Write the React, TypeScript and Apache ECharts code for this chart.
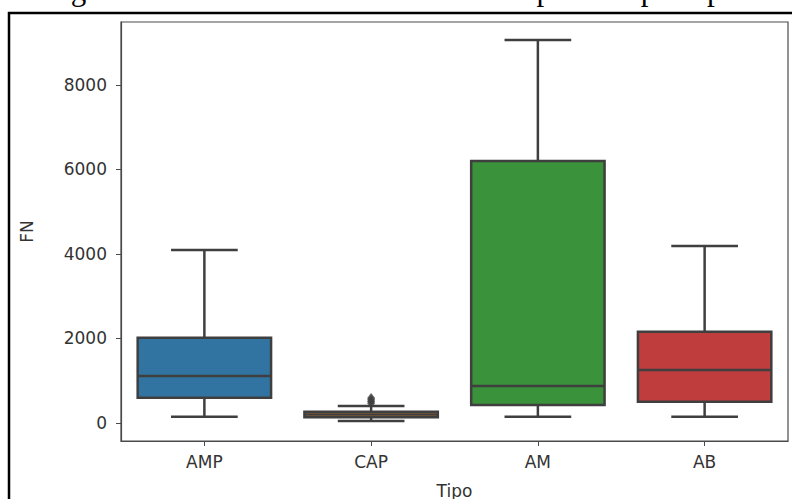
import React, { useEffect, useRef } from "react";
import * as echarts from "echarts";

const categories = ["AMP", "CAP", "AM", "AB"];
const whiskerLow = [150, 50, 150, 150];
const q1 = [600, 135, 425, 505];
const median = [1110, 200, 875, 1255];
const q3 = [2020, 265, 6200, 2160];
const whiskerHigh = [4095, 400, 9065, 4190];
const outlierCategory = ["CAP", "CAP", "CAP", "CAP"];
const outlierValues = [470, 510, 550, 590];
const yTicks = [0, 2000, 4000, 6000, 8000];
const boxColors = ["#3274a1", "#e1812c", "#3a923a", "#c03d3e"];
const titleText = "agramas de caixa dos valores de FN separados por tipo de";

const LINE = "#3f3f3f";

export default function App() {
  const ref = useRef<HTMLDivElement>(null);
  useEffect(() => {
    if (!ref.current) return;
    const chart = echarts.init(ref.current, null, { renderer: "svg" });
    const boxData = categories.map((c, i) => [i, whiskerLow[i], q1[i], median[i], q3[i], whiskerHigh[i]]);
    const outData = outlierValues.map((v, i) => [categories.indexOf(outlierCategory[i]), v]);
    chart.setOption({
      animation: false,
      backgroundColor: "#ffffff",
      textStyle: { fontFamily: "DejaVu Sans" },
      grid: {
        left: 121,
        right: 4,
        top: 22,
        bottom: 58,
        containLabel: false,
        outerBoundsMode: "none",
        show: true,
        borderColor: "#4a4a4a",
        borderWidth: 1.2,
        backgroundColor: "#ffffff",
      },
      graphic: [
        {
          type: "text",
          left: 57,
          top: -26,
          style: {
            text: titleText,
            font: "31px 'Liberation Serif', serif",
            fill: "#000",
          },
        },
        {
          type: "rect",
          shape: { x: 9, y: 13, width: 820, height: 540 },
          style: { fill: "none", stroke: "#000", lineWidth: 2.5 },
          z: 100,
        },
      ],
      xAxis: {
        type: "category",
        data: categories,
        boundaryGap: true,
        name: "Tipo",
        nameLocation: "middle",
        nameGap: 41,
        nameTextStyle: { fontSize: 17, color: "#333" },
        axisLine: { show: true, onZero: false, lineStyle: { color: "#4a4a4a", width: 1.2 } },
        axisTick: { show: true, alignWithLabel: true, length: 5, lineStyle: { color: "#4a4a4a" } },
        axisLabel: { fontSize: 17, color: "#333", margin: 12 },
        splitLine: { show: false },
      },
      yAxis: {
        type: "value",
        min: -426,
        max: 9491,
        name: "FN",
        nameLocation: "middle",
        nameGap: 86,
        nameTextStyle: { fontSize: 17, color: "#333" },
        axisLine: { show: true, lineStyle: { color: "#4a4a4a", width: 1.2 } },
        axisTick: { show: true, length: 5, customValues: yTicks, lineStyle: { color: "#4a4a4a" } },
        axisLabel: {
          fontSize: 17,
          color: "#333",
          margin: 14,
          customValues: yTicks,
          formatter: (v: number) => String(v),
        },
        splitLine: { show: false },
      },
      series: [
        {
          type: "custom",
          encode: { x: 0, y: [1, 2, 3, 4, 5] },
          data: boxData,
          renderItem: (params: any, api: any) => {
            const idx = api.value(0);
            const pLo = api.coord([idx, api.value(1)]);
            const pQ1 = api.coord([idx, api.value(2)]);
            const pMed = api.coord([idx, api.value(3)]);
            const pQ3 = api.coord([idx, api.value(4)]);
            const pHi = api.coord([idx, api.value(5)]);
            const band = api.size([1, 0])[0];
            const bw = band * 0.8;
            const cw = bw / 2;
            const cx = pLo[0];
            const lw = 2.5;
            const ls = { stroke: LINE, lineWidth: lw };
            return {
              type: "group",
              children: [
                { type: "line", shape: { x1: cx, y1: pQ3[1], x2: cx, y2: pHi[1] }, style: ls },
                { type: "line", shape: { x1: cx, y1: pQ1[1], x2: cx, y2: pLo[1] }, style: ls },
                { type: "line", shape: { x1: cx - cw / 2, y1: pHi[1], x2: cx + cw / 2, y2: pHi[1] }, style: ls },
                { type: "line", shape: { x1: cx - cw / 2, y1: pLo[1], x2: cx + cw / 2, y2: pLo[1] }, style: ls },
                {
                  type: "rect",
                  shape: { x: cx - bw / 2, y: pQ3[1], width: bw, height: pQ1[1] - pQ3[1] },
                  style: { fill: boxColors[params.dataIndex], stroke: LINE, lineWidth: lw },
                },
                { type: "line", shape: { x1: cx - bw / 2, y1: pMed[1], x2: cx + bw / 2, y2: pMed[1] }, style: ls },
              ],
            };
          },
          z: 2,
        },
        {
          type: "scatter",
          data: outData,
          symbol: "diamond",
          symbolSize: [8, 10],
          itemStyle: { color: LINE, borderColor: LINE, borderWidth: 0 },
          z: 3,
        },
      ],
    });
    return () => chart.dispose();
  }, []);
  return (
    <div
      ref={ref}
      style={{ position: "fixed", left: 0, top: 0, width: 792, height: 499 }}
    />
  );
}
